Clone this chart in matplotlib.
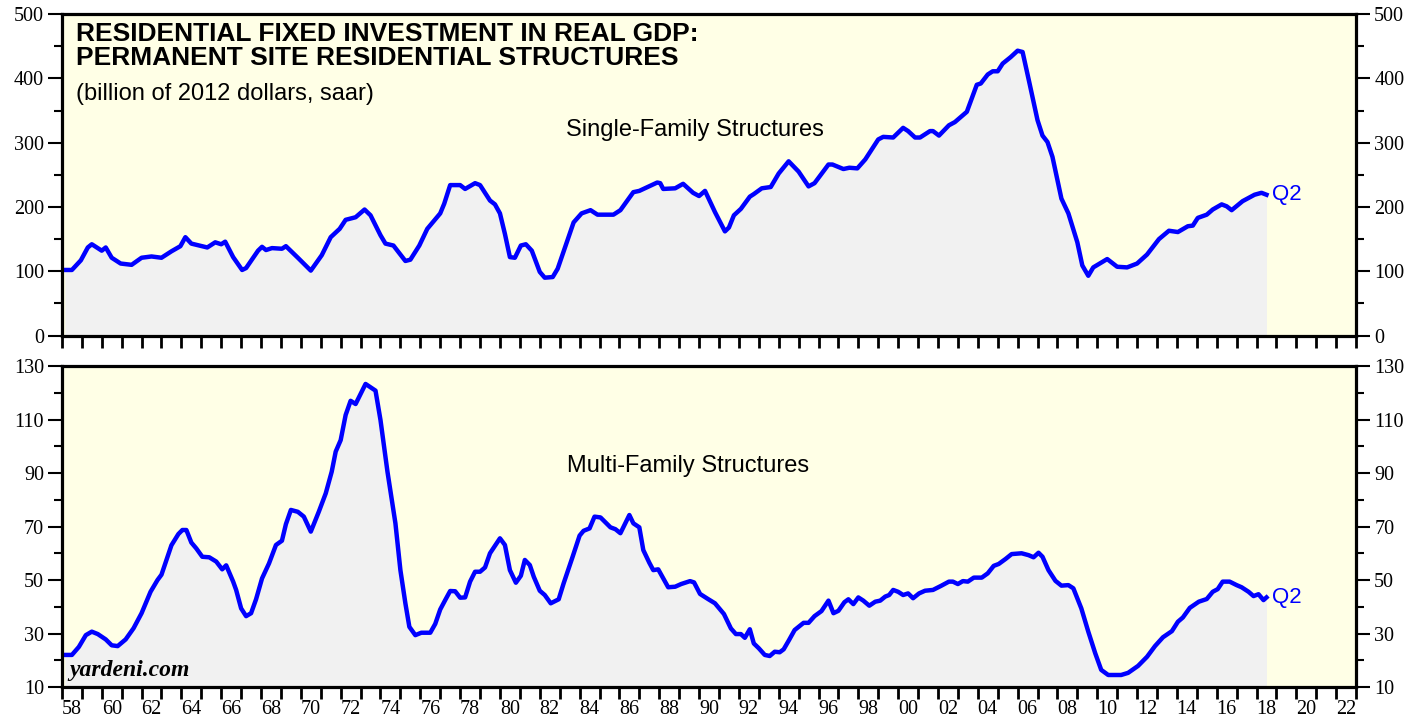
import numpy as np
import matplotlib.pyplot as plt
from matplotlib.ticker import MultipleLocator, FixedLocator, FixedFormatter

# Single-family structures, billion of 2012 dollars, saar
single_dates = [
    1958.15, 1958.5, 1958.95, 1959.3, 1959.5, 1960.0, 1960.2, 1960.5, 1960.95, 1961.5,
    1962.0, 1962.5, 1963.0, 1963.5, 1963.95, 1964.2, 1964.5, 1965.3, 1965.7, 1966.0,
    1966.2, 1966.6, 1967.05, 1967.25, 1967.85, 1968.05, 1968.25, 1968.55, 1969.05, 1969.25,
    1969.85, 1970.5, 1971.05, 1971.5, 1971.95, 1972.25, 1972.75, 1973.2, 1973.5, 1974.0,
    1974.25, 1974.65, 1975.25, 1975.5, 1975.95, 1976.35, 1977.0, 1977.2, 1977.5, 1978.0,
    1978.25, 1978.75, 1979.0, 1979.5, 1979.75, 1980.0, 1980.25, 1980.5, 1980.75, 1981.05,
    1981.3, 1981.6, 1982.0, 1982.25, 1982.65, 1982.9, 1983.3, 1983.7, 1984.1, 1984.55,
    1984.9, 1985.7, 1986.05, 1986.7, 1987.0, 1987.9, 1988.05, 1988.2, 1988.8, 1989.2,
    1989.7, 1990.0, 1990.3, 1990.8, 1991.3, 1991.5, 1991.75, 1992.1, 1992.55, 1992.75,
    1993.15, 1993.6, 1994.0, 1994.5, 1995.0, 1995.5, 1995.8, 1996.5, 1996.7, 1997.25,
    1997.55, 1997.95, 1998.35, 1999.0, 1999.25, 1999.75, 2000.25, 2000.5, 2000.85, 2001.1,
    2001.6, 2001.75, 2002.05, 2002.55, 2002.85, 2003.45, 2003.95, 2004.15, 2004.5, 2004.75,
    2005.0, 2005.25, 2005.65, 2006.0, 2006.25, 2006.6, 2007.0, 2007.25, 2007.5, 2007.75,
    2008.2, 2008.55, 2009.0, 2009.25, 2009.55, 2009.8, 2010.5, 2011.0, 2011.5, 2012.0,
    2012.5, 2013.1, 2013.6, 2014.05, 2014.55, 2014.8, 2015.05, 2015.5, 2015.8, 2016.25,
    2016.5, 2016.75, 2017.3, 2017.9, 2018.25, 2018.5,
]
single_values = [
    102, 102, 117, 137, 142, 132, 137, 121, 112, 110,
    121, 123, 121, 131, 139, 153, 143, 137, 145, 142,
    146, 122, 102, 105, 132, 138, 133, 136, 135, 139,
    121, 101, 125, 153, 166, 180, 184, 196, 187, 156,
    143, 140, 116, 118, 140, 166, 190, 205, 234, 234,
    228, 237, 234, 210, 204, 190, 158, 122, 121, 140,
    142, 132, 99, 90, 91, 104, 140, 176, 190, 195,
    188, 188, 195, 223, 225, 238, 237, 228, 229, 236,
    222, 217, 225, 192, 162, 168, 187, 197, 216, 220,
    229, 231, 252, 271, 255, 232, 237, 266, 266, 259,
    261, 260, 274, 305, 309, 308, 323, 318, 308, 308,
    318, 318, 311, 327, 332, 348, 390, 392, 406, 411,
    411, 423, 433, 443, 441, 392, 335, 311, 301, 278,
    213, 190, 145, 109, 93, 106, 119, 107, 106, 112,
    126, 150, 163, 161, 170, 171, 183, 188, 196, 204,
    201, 195, 209, 219, 222, 219,
]

# Multi-family structures, billion of 2012 dollars, saar
multi_dates = [
    1958.15, 1958.5, 1958.85, 1959.2, 1959.5, 1959.8, 1960.2, 1960.5, 1960.8, 1961.2,
    1961.6, 1962.0, 1962.45, 1962.8, 1963.0, 1963.5, 1963.85, 1964.05, 1964.25, 1964.5,
    1964.75, 1965.05, 1965.4, 1965.75, 1966.05, 1966.25, 1966.6, 1966.75, 1967.0, 1967.25,
    1967.5, 1967.75, 1968.05, 1968.4, 1968.75, 1969.05, 1969.25, 1969.5, 1969.85, 1970.15,
    1970.5, 1970.9, 1971.25, 1971.55, 1971.75, 1972.0, 1972.25, 1972.5, 1972.75, 1973.25,
    1973.75, 1974.0, 1974.35, 1974.75, 1975.0, 1975.25, 1975.45, 1975.75, 1976.05, 1976.5,
    1976.75, 1977.0, 1977.25, 1977.5, 1977.75, 1978.0, 1978.25, 1978.5, 1978.75, 1979.0,
    1979.25, 1979.5, 1980.0, 1980.25, 1980.5, 1980.8, 1981.05, 1981.25, 1981.5, 1981.7,
    1982.0, 1982.25, 1982.55, 1982.95, 1983.2, 1983.65, 1984.0, 1984.2, 1984.5, 1984.75,
    1985.05, 1985.55, 1985.8, 1986.05, 1986.5, 1986.7, 1987.0, 1987.2, 1987.5, 1987.7,
    1987.95, 1988.45, 1988.8, 1989.1, 1989.55, 1989.75, 1990.05, 1990.45, 1990.8, 1991.25,
    1991.6, 1991.85, 1992.1, 1992.3, 1992.55, 1992.75, 1993.0, 1993.3, 1993.55, 1993.8,
    1994.05, 1994.25, 1994.5, 1994.8, 1995.25, 1995.5, 1995.8, 1996.15, 1996.5, 1996.75,
    1997.0, 1997.3, 1997.5, 1997.75, 1998.0, 1998.25, 1998.55, 1998.85, 1999.1, 1999.35,
    1999.55, 1999.75, 2000.0, 2000.25, 2000.5, 2000.75, 2001.05, 2001.35, 2001.75, 2002.15,
    2002.55, 2002.75, 2003.0, 2003.25, 2003.5, 2003.8, 2004.2, 2004.5, 2004.8, 2005.05,
    2005.4, 2005.7, 2006.2, 2006.55, 2006.8, 2007.05, 2007.25, 2007.55, 2007.9, 2008.2,
    2008.55, 2008.8, 2009.2, 2009.55, 2009.9, 2010.2, 2010.55, 2011.2, 2011.55, 2012.05,
    2012.5, 2012.9, 2013.3, 2013.75, 2014.05, 2014.3, 2014.65, 2015.1, 2015.5, 2015.8,
    2016.05, 2016.3, 2016.65, 2017.0, 2017.25, 2017.6, 2017.85, 2018.1, 2018.35, 2018.5,
]
multi_values = [
    22, 22, 25, 29.4, 30.7, 29.8, 27.8, 25.6, 25.3, 27.8,
    32, 37.6, 45.6, 50, 52, 63, 67.2, 68.7, 68.7, 64,
    61.8, 58.7, 58.5, 56.9, 54, 55.5, 49.4, 46.3, 39.4, 36.5,
    37.6, 42.8, 50.6, 56.2, 63.1, 64.7, 70.9, 76.2, 75.5, 73.7,
    68.1, 75.5, 82.4, 90.5, 98, 102.3, 111.7, 117, 115.8, 123.3,
    120.8, 109.8, 90.5, 71.2, 53.7, 41.3, 32.5, 29.4, 30.3, 30.3,
    33.6, 39, 42.5, 45.9, 45.8, 43.4, 43.5, 49.4, 53.1, 53.1,
    54.7, 60, 65.6, 63.1, 53.7, 49, 51.6, 57.5, 55.6, 51.2,
    46, 44.4, 41.3, 42.8, 48.8, 58.7, 66.6, 68.4, 69.3, 73.7,
    73.4, 69.7, 69, 67.5, 74.3, 71.2, 69.7, 61.2, 56.5, 53.7,
    54, 47.3, 47.5, 48.5, 49.6, 49.1, 44.8, 42.9, 41.3, 37.3,
    31.9, 29.8, 29.8, 28.4, 31.6, 26.3, 24.5, 22, 21.6, 23.2,
    23, 24.1, 27.3, 31.3, 34, 34, 36.5, 38.4, 42.3, 37.6,
    38.5, 41.7, 42.8, 41, 43.5, 42.3, 40.4, 41.9, 42.3, 43.8,
    44.4, 46.3, 45.6, 44.4, 45, 43.2, 45, 46, 46.3, 47.8,
    49.4, 49.4, 48.5, 49.6, 49.4, 50.9, 50.9, 52.5, 55.3, 56,
    57.9, 59.7, 60, 59.3, 58.5, 60.2, 58.7, 53.7, 49.7, 47.9,
    48.1, 46.9, 39.4, 30.7, 22.6, 16.4, 14.5, 14.5, 15.3, 17.9,
    21.3, 25.3, 28.6, 30.9, 34.4, 36, 39.6, 41.9, 42.9, 45.6,
    46.6, 49.4, 49.4, 48.1, 47.3, 45.6, 44, 44.7, 42.5, 43.5,
]

years = np.arange(1958, 2024)
label_years = np.arange(1958, 2023, 2)
year_labels = [f"{y % 100:02d}" for y in label_years]

single_ticks = [0, 100, 200, 300, 400, 500]
multi_ticks = [10, 30, 50, 70, 90, 110, 130]

BG = "#ffffe6"
FILL = "#f1f1f1"
LINE = "#0000ff"
SERIF = "Liberation Serif"
SANS = "Liberation Sans"


def style_panel(ax, ymin, ymax, major_ticks, minor, show_labels):
    ax.set_facecolor(BG)
    ax.set_xlim(1958, 2023)
    ax.set_ylim(ymin, ymax)
    for s in ax.spines.values():
        s.set_linewidth(2.3)
    ax.yaxis.set_major_locator(FixedLocator(major_ticks))
    ax.yaxis.set_minor_locator(MultipleLocator(minor))
    ax.tick_params(axis="y", which="both", left=True, right=True,
                   labelleft=True, labelright=True, direction="out", width=1.5)
    ax.tick_params(axis="y", which="major", length=10, pad=3, labelsize=14.5)
    ax.tick_params(axis="y", which="minor", length=6)
    for lab in ax.get_yticklabels():
        lab.set_fontfamily(SERIF)
    ax.xaxis.set_major_locator(FixedLocator(years))
    ax.xaxis.set_major_formatter(FixedFormatter([""] * len(years)))
    ax.tick_params(axis="x", which="major", direction="out", length=8.5, width=2)
    if show_labels:
        ax.xaxis.set_minor_locator(FixedLocator(label_years + 0.5))
        ax.xaxis.set_minor_formatter(FixedFormatter(year_labels))
        ax.tick_params(axis="x", which="minor", length=0, pad=9, labelsize=14.5)
        for lab in ax.get_xticklabels(minor=True):
            lab.set_fontfamily(SERIF)
    else:
        ax.xaxis.set_minor_locator(FixedLocator([]))


fig = plt.figure(figsize=(14.27, 7.17), dpi=100)
ax1 = fig.add_axes([0.0434, 0.532, 0.9069, 0.4484])
ax2 = fig.add_axes([0.0434, 0.0418, 0.9069, 0.4477])

# top panel
ax1.fill_between(single_dates, single_values, 0, color=FILL, lw=0, zorder=1)
ax1.plot(single_dates, single_values, color=LINE, lw=3.2, zorder=2, solid_joinstyle="round")
style_panel(ax1, 0, 500, single_ticks, 50, False)
ax1.text(0.011, 0.975, "RESIDENTIAL FIXED INVESTMENT IN REAL GDP:\nPERMANENT SITE RESIDENTIAL STRUCTURES",
         transform=ax1.transAxes, ha="left", va="top", fontsize=19, fontweight="bold",
         family=SANS, linespacing=1.0)
ax1.text(0.011, 0.787, "(billion of 2012 dollars, saar)", transform=ax1.transAxes,
         ha="left", va="top", fontsize=17, family=SANS)
ax1.text(0.489, 0.639, "Single-Family Structures", transform=ax1.transAxes,
         ha="center", va="center", fontsize=17, family=SANS)
ax1.text(2018.8, single_values[-1], "Q2", color=LINE, ha="left", va="center",
         fontsize=16, family=SANS)

# bottom panel
ax2.fill_between(multi_dates, multi_values, 10, color=FILL, lw=0, zorder=1)
ax2.plot(multi_dates, multi_values, color=LINE, lw=3.2, zorder=2, solid_joinstyle="round")
style_panel(ax2, 10, 130, multi_ticks, 10, True)
ax2.text(0.484, 0.688, "Multi-Family Structures", transform=ax2.transAxes,
         ha="center", va="center", fontsize=17, family=SANS)
ax2.text(2018.8, multi_values[-1], "Q2", color=LINE, ha="left", va="center",
         fontsize=16, family=SANS)
ax2.text(0.006, 0.05, "yardeni.com", transform=ax2.transAxes, ha="left", va="center",
         fontsize=17, fontweight="bold", fontstyle="italic", family=SERIF)

fig.savefig("out.png", dpi=100)
